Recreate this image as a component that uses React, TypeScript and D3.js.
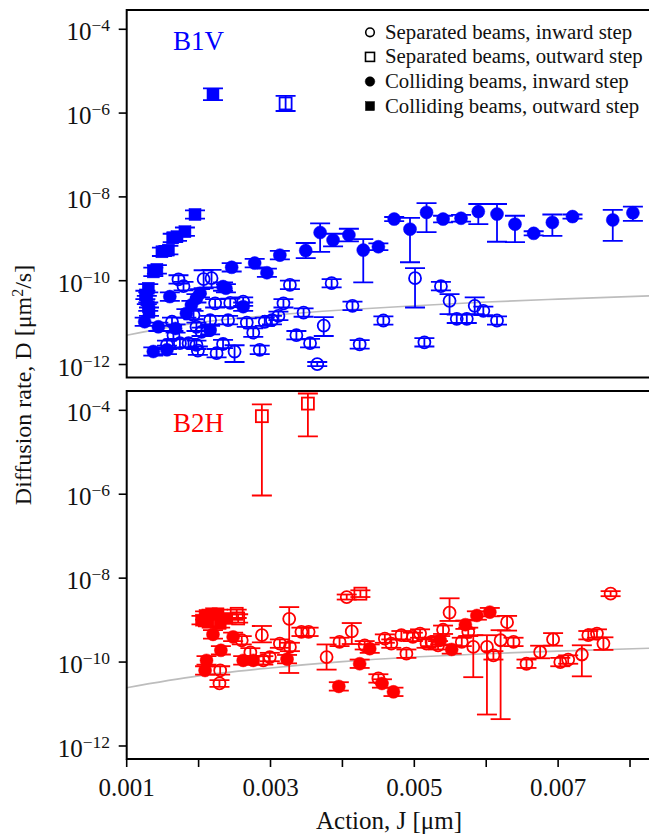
import React from "react";
import * as d3 from "d3";

// Each point: [action J (µm), log10 D (µm²/s), lower error (decades), upper error (decades)]
type Pt = [number, number, number?, number?];

// ---------- B1V ----------
const b1vSepIn: Pt[] = [
  [0.00172, -9.97], [0.00179, -10.13], [0.00207, -9.96, 0.22, 0.21], [0.00218, -9.94, 0.22, 0.2],
  [0.00327, -10.1], [0.00385, -10.06], [0.00223, -10.54], [0.00244, -10.53], [0.00262, -10.5],
  [0.00318, -10.54], [0.00193, -10.82], [0.00216, -10.94], [0.00241, -10.94], [0.00267, -11.0],
  [0.00292, -10.98], [0.00302, -10.94], [0.00311, -10.84], [0.00346, -10.76],
  [0.00374, -11.07, 0.25, 0.2], [0.00163, -10.98], [0.00165, -11.3], [0.00197, -11.1],
  [0.00204, -11.22], [0.00276, -11.24], [0.00336, -11.3], [0.00355, -11.49], [0.00156, -11.53],
  [0.00174, -11.49], [0.00186, -11.49], [0.00197, -11.53], [0.00199, -11.67], [0.00225, -11.73],
  [0.00234, -11.51], [0.0025, -11.69, 0.25, 0.15], [0.00285, -11.65], [0.00365, -11.99, 0.05, 0.05],
  [0.00414, -10.6], [0.00457, -10.95], [0.00424, -11.52], [0.00514, -11.47],
  [0.00501, -9.94, 0.7, 0.24], [0.00537, -10.13], [0.00549, -10.48, 0.32, 0.16],
  [0.00584, -10.6, 0.2, 0.2], [0.00596, -10.72, 0.1, 0.1], [0.00559, -10.91], [0.00573, -10.91],
  [0.00615, -10.95],
];
const b1vSepOut: Pt[] = [[0.00321, -5.77, 0.18, 0.18]];
const b1vColIn: Pt[] = [
  [0.0016, -10.38], [0.00202, -10.3], [0.00197, -10.42], [0.0019, -10.58], [0.00183, -10.78],
  [0.00125, -10.98], [0.00144, -11.1], [0.00168, -11.14], [0.00216, -11.18], [0.00137, -11.69],
  [0.00156, -11.65], [0.00246, -9.68], [0.00278, -9.58], [0.00295, -9.81], [0.00313, -9.39],
  [0.00349, -9.28, 0.18, 0.18], [0.00369, -8.85, 0.46, 0.22], [0.00387, -9.03, 0.15, 0.15],
  [0.00409, -8.91, 0.15, 0.15], [0.00429, -9.27, 0.77, 0.26], [0.0045, -9.19, 0.08, 0.08],
  [0.00472, -8.53, 0.05, 0.05], [0.00494, -8.77, 0.79, 0.27], [0.00517, -8.37, 0.47, 0.22],
  [0.0054, -8.53, 0.08, 0.08], [0.00565, -8.51, 0.08, 0.08], [0.00589, -8.35, 0.3, 0.18],
  [0.00615, -8.41, 0.66, 0.24], [0.0064, -8.65, 0.43, 0.2], [0.00666, -8.87, 0.05, 0.05],
  [0.00692, -8.61, 0.32, 0.19], [0.0072, -8.47, 0.05, 0.05], [0.00776, -8.55, 0.5, 0.24],
  [0.00804, -8.38, 0.19, 0.15], [0.00234, -10.14], [0.00238, -10.18], [0.00262, -10.62],
];
const b1vColOut: Pt[] = [
  [0.0022, -5.55, 0.14, 0.14], [0.00195, -8.42], [0.00181, -8.83], [0.0017, -8.95],
  [0.00164, -8.98], [0.00158, -9.27], [0.00149, -9.31], [0.00142, -9.73], [0.00137, -9.79],
  [0.0013, -10.18], [0.00126, -10.34], [0.00128, -10.46], [0.0013, -10.62], [0.00131, -10.74],
];

// ---------- B2H ----------
const b2hSepIn: Pt[] = [
  [0.00406, -8.45, 0.06, 0.06], [0.00326, -8.97, 1.29, 0.28], [0.00288, -9.36, 0.17, 0.22],
  [0.0026, -9.48], [0.0023, -10.2], [0.00229, -10.51, 0.08, 0.08], [0.00313, -9.56],
  [0.00343, -9.28], [0.00353, -9.28], [0.00413, -9.27, 0.3, 0.2], [0.00378, -9.88, 0.3, 0.3],
  [0.00396, -9.52], [0.00327, -9.64], [0.00299, -9.88], [0.0029, -9.96], [0.00272, -9.77],
  [0.0045, -10.39], [0.00549, -8.82, 0.2, 0.34], [0.00629, -9.05, 0.2, 0.15], [0.0054, -9.23],
  [0.00575, -9.28], [0.00566, -9.52], [0.00582, -9.64, 0.72, 0.28], [0.00601, -9.64, 1.61, 0.28],
  [0.0062, -9.48, 1.88, 0.24], [0.0061, -9.84], [0.00638, -9.52], [0.00431, -9.6],
  [0.00459, -9.44], [0.00468, -9.56], [0.00482, -9.36], [0.00489, -9.8], [0.00498, -9.4],
  [0.00508, -9.32], [0.00517, -9.56], [0.00524, -9.52], [0.00533, -9.6], [0.00656, -10.04],
  [0.00675, -9.76, 0.15, 0.15], [0.00693, -9.46, 0.15, 0.15], [0.00703, -10.0], [0.00714, -9.94],
  [0.00733, -9.82, 0.52, 0.22], [0.00742, -9.36], [0.00754, -9.32], [0.00763, -9.56, 0.15, 0.15],
  [0.00773, -8.37, 0.06, 0.06],
];
const b2hSepOut: Pt[] = [
  [0.00288, -4.14, 1.89, 0.28], [0.00352, -3.84, 0.78, 0.24], [0.00425, -8.37, 0.08, 0.08],
  [0.00253, -8.85], [0.00255, -8.96],
];
const b2hColIn: Pt[] = [
  [0.0022, -9.34], [0.00248, -9.4], [0.00231, -9.72], [0.00211, -9.96], [0.00209, -10.2],
  [0.00262, -9.96], [0.00276, -9.96], [0.00323, -9.93], [0.00395, -10.58], [0.00424, -10.04],
  [0.00587, -8.89], [0.00605, -8.81], [0.00571, -9.11], [0.00552, -9.7], [0.00438, -9.68],
  [0.00536, -9.48], [0.00455, -10.51], [0.00471, -10.71],
];
const b2hColOut: Pt[] = [
  [0.00209, -8.89], [0.00218, -8.85], [0.00227, -8.85], [0.00213, -9.05], [0.00204, -9.0],
  [0.0023, -9.08], [0.00239, -8.96],
];

// Fitted diffusion model curves: [J, log10 D]
const b1vFit: [number, number][] = [
  [0.001, -11.3], [0.002, -11.0], [0.003, -10.83], [0.004, -10.7], [0.005, -10.6],
  [0.006, -10.51], [0.007, -10.44], [0.0083, -10.36],
];
const b2hFit: [number, number][] = [
  [0.001, -10.61], [0.002, -10.33], [0.003, -10.14], [0.004, -9.99], [0.005, -9.88],
  [0.006, -9.8], [0.007, -9.74], [0.0083, -9.67],
];

const yTickExps = [-4, -6, -8, -10, -12];
const xTicks = [0.001, 0.002, 0.003, 0.004, 0.005, 0.006, 0.007, 0.008];
const xTickLabels = ["0.001", "", "0.003", "", "0.005", "", "0.007", ""];

const legendItems = [
  { label: "Separated beams, inward step", shape: "circle", filled: false },
  { label: "Separated beams, outward step", shape: "square", filled: false },
  { label: "Colliding beams, inward step", shape: "circle", filled: true },
  { label: "Colliding beams, outward step", shape: "square", filled: true },
];

const W = 649;
const H = 836;
const X0 = 126.7;
const X1 = 651.6;
const FONT = "'Liberation Serif', 'Times New Roman', serif";
const DEF_ERR = 0.1;

const x = d3.scaleLinear().domain([0.001, 0.0083]).range([X0, X1]);

type PanelDef = {
  id: string;
  name: string;
  color: string;
  top: number;
  bottom: number;
  sepIn: Pt[];
  sepOut: Pt[];
  colIn: Pt[];
  colOut: Pt[];
  fit: [number, number][];
};

const panelDefs: PanelDef[] = [
  { id: "p1", name: "B1V", color: "#0000ff", top: 10, bottom: 377.5,
    sepIn: b1vSepIn, sepOut: b1vSepOut, colIn: b1vColIn, colOut: b1vColOut, fit: b1vFit },
  { id: "p2", name: "B2H", color: "#ff0000", top: 391, bottom: 759,
    sepIn: b2hSepIn, sepOut: b2hSepOut, colIn: b2hColIn, colOut: b2hColOut, fit: b2hFit },
];

function Series({ data, y, color, shape, filled }: {
  data: Pt[]; y: d3.ScaleLogarithmic<number, number>; color: string; shape: string; filled: boolean;
}) {
  const sw = 1.8;
  return (
    <g>
      {data.map((d, i) => {
        const [j, lg, dn = DEF_ERR, up = DEF_ERR] = d;
        const cx = x(j);
        const cy = y(Math.pow(10, lg));
        const yHi = y(Math.pow(10, lg + up));
        const yLo = y(Math.pow(10, lg - dn));
        const cap = 10;
        return (
          <g key={i}>
            <line x1={cx} x2={cx} y1={yHi} y2={yLo} stroke={color} strokeWidth={sw} />
            <line x1={cx - cap} x2={cx + cap} y1={yHi} y2={yHi} stroke={color} strokeWidth={sw} />
            <line x1={cx - cap} x2={cx + cap} y1={yLo} y2={yLo} stroke={color} strokeWidth={sw} />
            {shape === "circle" ? (
              <circle cx={cx} cy={cy} r={filled ? 6.5 : 6} fill={filled ? color : "none"}
                stroke={color} strokeWidth={filled ? 0.5 : sw} />
            ) : (
              <rect x={cx - 6} y={cy - 6} width={12} height={12} fill={filled ? color : "none"}
                stroke={color} strokeWidth={filled ? 0.5 : sw} />
            )}
          </g>
        );
      })}
    </g>
  );
}

function Panel({ p, showX }: { p: PanelDef; showX: boolean }) {
  const y = d3.scaleLog().domain([Math.pow(10, -12.31), Math.pow(10, -3.54)]).range([p.bottom, p.top]);
  const line = d3.line<[number, number]>()
    .x((d) => x(d[0]))
    .y((d) => y(Math.pow(10, d[1])))
    .curve(d3.curveMonotoneX);
  return (
    <g>
      <defs>
        <clipPath id={`clip-${p.id}`}>
          <rect x={X0} y={p.top} width={X1 - X0} height={p.bottom - p.top} />
        </clipPath>
      </defs>
      <g clipPath={`url(#clip-${p.id})`}>
        <path d={line(p.fit) || ""} fill="none" stroke="#bdbdbd" strokeWidth={1.6} />
        <Series data={p.sepIn} y={y} color={p.color} shape="circle" filled={false} />
        <Series data={p.sepOut} y={y} color={p.color} shape="square" filled={false} />
        <Series data={p.colIn} y={y} color={p.color} shape="circle" filled={true} />
        <Series data={p.colOut} y={y} color={p.color} shape="square" filled={true} />
      </g>
      <rect x={X0} y={p.top} width={X1 - X0} height={p.bottom - p.top} fill="none" stroke="#000" strokeWidth={2} />
      {yTickExps.map((e) => {
        const ty = y(Math.pow(10, e));
        return (
          <g key={e}>
            <line x1={X0 - 8} x2={X0} y1={ty} y2={ty} stroke="#000" strokeWidth={1.6} />
            <text x={110} y={ty + 11} textAnchor="end" fontFamily={FONT} fontSize={25} fill="#111">
              10<tspan dy={-9} fontSize={17.5}>{`\u2212${Math.abs(e)}`}</tspan>
            </text>
          </g>
        );
      })}
      <text x={173} y={p.name === "B1V" ? 50 : 432} fontFamily={FONT} fontSize={27} fill={p.color}>{p.name}</text>
      {showX && xTicks.map((t, i) => (
        <g key={t}>
          <line x1={x(t)} x2={x(t)} y1={p.bottom} y2={p.bottom + 8} stroke="#000" strokeWidth={1.6} />
          {xTickLabels[i] && (
            <text x={x(t)} y={796} textAnchor="middle" fontFamily={FONT} fontSize={25} fill="#111">{xTickLabels[i]}</text>
          )}
        </g>
      ))}
    </g>
  );
}

export default function App() {
  const legX = 370;
  const legY0 = 32.3;
  const legDy = 24.6;
  return (
    <svg width={W} height={H} viewBox={`0 0 ${W} ${H}`}
      style={{ position: "absolute", left: 0, top: 0, background: "#fff", display: "block" }}>
      <rect x={0} y={0} width={W} height={H} fill="#fff" />
      <Panel p={panelDefs[0]} showX={false} />
      <Panel p={panelDefs[1]} showX={true} />
      {legendItems.map((it, i) => {
        const cy = legY0 + i * legDy;
        return (
          <g key={it.label}>
            {it.shape === "circle" ? (
              <circle cx={legX} cy={cy} r={it.filled ? 4.8 : 4.3} fill={it.filled ? "#000" : "none"}
                stroke="#000" strokeWidth={it.filled ? 0.5 : 1.6} />
            ) : (
              <rect x={legX - 4.5} y={cy - 4.5} width={9} height={9} fill={it.filled ? "#000" : "none"}
                stroke="#000" strokeWidth={it.filled ? 0.5 : 1.6} />
            )}
            <text x={385} y={cy + 6.5} fontFamily={FONT} fontSize={20.8} fill="#111">{it.label}</text>
          </g>
        );
      })}
      <text x={389} y={829} textAnchor="middle" fontFamily={FONT} fontSize={25} fill="#111">Action, J [μm]</text>
      <text transform={`translate(31, 385) rotate(-90)`} textAnchor="middle" fontFamily={FONT} fontSize={24} fill="#111">
        Diffusion rate, D [μm<tspan dy={-8} fontSize={16}>2</tspan><tspan dy={8}>/s]</tspan>
      </text>
    </svg>
  );
}
